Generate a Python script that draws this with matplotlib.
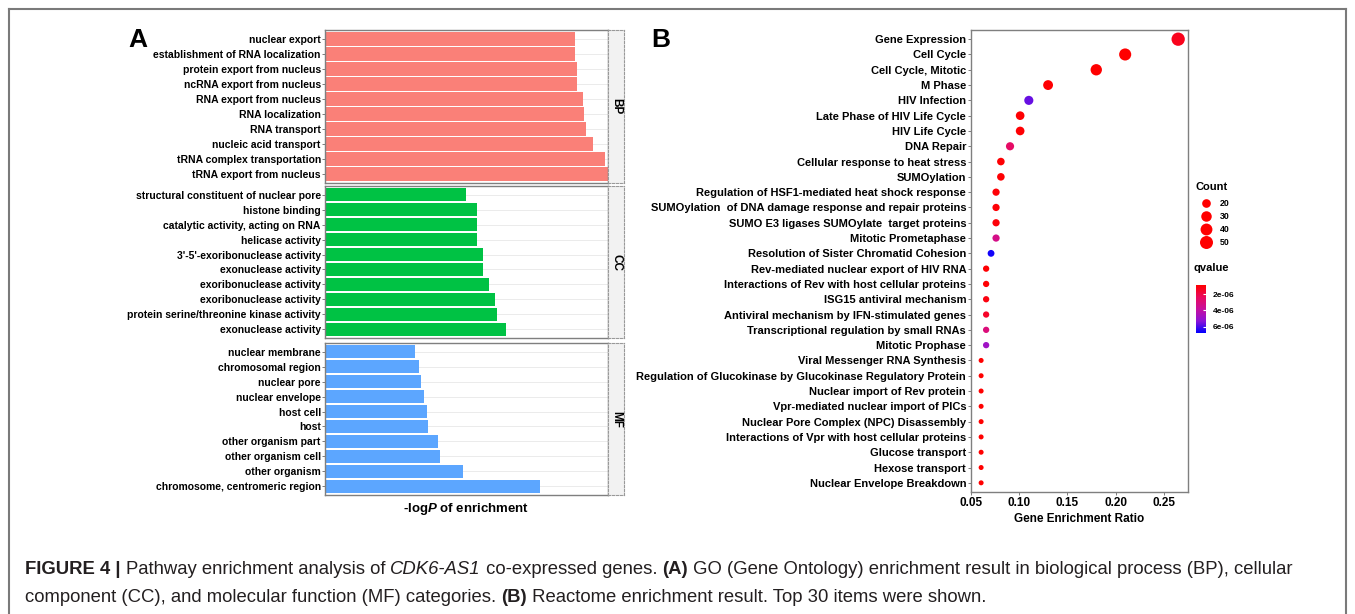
import numpy as np
import matplotlib
matplotlib.use("Agg")
import matplotlib.pyplot as plt
from matplotlib.colors import LinearSegmentedColormap, Normalize
from matplotlib.lines import Line2D

# fonts (bold italic "P" goes through the sf slot)
plt.rcParams['font.family'] = 'Liberation Sans'
plt.rcParams['mathtext.fontset'] = 'custom'
plt.rcParams['mathtext.rm'] = 'Liberation Sans'
plt.rcParams['mathtext.sf'] = 'Liberation Sans:italic:bold'

# ---- panel A data (-logP, relative units) ----
bp_terms = ["nuclear export", "establishment of RNA localization", "protein export from nucleus",
            "ncRNA export from nucleus", "RNA export from nucleus", "RNA localization",
            "RNA transport", "nucleic acid transport", "tRNA complex transportation",
            "tRNA export from nucleus"]
bp_vals = [8.83, 8.83, 8.89, 8.89, 9.11, 9.15, 9.21, 9.48, 9.89, 10.0]

cc_terms = ["structural constituent of nuclear pore", "histone binding",
            "catalytic activity, acting on RNA", "helicase activity",
            "3'-5'-exoribonuclease activity", "exonuclease activity",
            "exoribonuclease activity", "exoribonuclease activity",
            "protein serine/threonine kinase activity", "exonuclease activity"]
cc_vals = [4.97, 5.36, 5.36, 5.36, 5.57, 5.57, 5.79, 6.01, 6.08, 6.41]

mf_terms = ["nuclear membrane", "chromosomal region", "nuclear pore", "nuclear envelope",
            "host cell", "host", "other organism part", "other organism cell",
            "other organism", "chromosome, centromeric region"]
mf_vals = [3.17, 3.31, 3.38, 3.51, 3.60, 3.63, 4.00, 4.06, 4.86, 7.61]

# ---- panel B data (Reactome) ----
re_terms = ["Gene Expression", "Cell Cycle", "Cell Cycle, Mitotic", "M Phase", "HIV Infection",
            "Late Phase of HIV Life Cycle", "HIV Life Cycle", "DNA Repair",
            "Cellular response to heat stress", "SUMOylation",
            "Regulation of HSF1-mediated heat shock response",
            "SUMOylation  of DNA damage response and repair proteins",
            "SUMO E3 ligases SUMOylate  target proteins", "Mitotic Prometaphase",
            "Resolution of Sister Chromatid Cohesion", "Rev-mediated nuclear export of HIV RNA",
            "Interactions of Rev with host cellular proteins", "ISG15 antiviral mechanism",
            "Antiviral mechanism by IFN-stimulated genes", "Transcriptional regulation by small RNAs",
            "Mitotic Prophase", "Viral Messenger RNA Synthesis",
            "Regulation of Glucokinase by Glucokinase Regulatory Protein",
            "Nuclear import of Rev protein", "Vpr-mediated nuclear import of PICs",
            "Nuclear Pore Complex (NPC) Disassembly",
            "Interactions of Vpr with host cellular proteins", "Glucose transport",
            "Hexose transport", "Nuclear Envelope Breakdown"]
re_ratio = [0.265, 0.210, 0.180, 0.130, 0.110, 0.101, 0.101, 0.0905, 0.081, 0.081,
            0.076, 0.076, 0.076, 0.076, 0.0708, 0.0657, 0.0657, 0.0657, 0.0657, 0.0657,
            0.0657, 0.0605, 0.0605, 0.0605, 0.0605, 0.0605, 0.0605, 0.0605, 0.0605, 0.0605]
re_count = [53, 42, 36, 26, 22, 20, 20, 18, 16, 16, 15, 15, 15, 15, 14, 13, 13, 13, 13, 13,
            13, 12, 12, 12, 12, 12, 12, 12, 12, 12]
re_q = [1.3e-6, 8.5e-7, 8.5e-7, 9e-7, 5.7e-6, 9e-7, 9e-7, 2.5e-6, 9e-7, 9e-7,
        9.5e-7, 9.5e-7, 1.0e-6, 3.3e-6, 6.6e-6, 9e-7, 9e-7, 1.1e-6, 1.5e-6, 3.0e-6,
        4.8e-6, 8.5e-7, 8.5e-7, 8.5e-7, 8.5e-7, 8.5e-7, 8.5e-7, 8.5e-7, 8.5e-7, 8.5e-7]
count_legend = [20, 30, 40, 50]
q_ticks = [2e-6, 4e-6, 6e-6]
q_ticklabels = ["2e-06", "4e-06", "6e-06"]
ratio_ticks = [0.05, 0.10, 0.15, 0.20, 0.25]

# caption runs: (text, weight, style)
caption1 = [("FIGURE 4 | ", 'bold', 'normal'), ("Pathway enrichment analysis of ", 'normal', 'normal'),
            ("CDK6-AS1", 'normal', 'italic'), (" co-expressed genes. ", 'normal', 'normal'),
            ("(A)", 'bold', 'normal'),
            (" GO (Gene Ontology) enrichment result in biological process (BP), cellular", 'normal', 'normal')]
caption2 = [("component (CC), and molecular function (MF) categories. ", 'normal', 'normal'),
            ("(B)", 'bold', 'normal'),
            (" Reactome enrichment result. Top 30 items were shown.", 'normal', 'normal')]

W, H = 1355, 614
fig = plt.figure(figsize=(W / 100, H / 100), dpi=100)


def px_axes(x0, y0, x1, y1):
    # axes from pixel box (top-left origin)
    return fig.add_axes([x0 / W, 1 - y1 / H, (x1 - x0) / W, (y1 - y0) / H])


def dot_diam(c):
    # dot diameter in px, area-like scale like ggplot
    c = np.asarray(c, dtype=float)
    return 5 + 8.3 * np.sqrt(np.clip((c - 12) / 41, 0, 1))


def draw_runs(x, y, runs, size, color):
    # mixed bold / italic text, one piece after the other
    r = fig.canvas.get_renderer()
    xp = x
    for s, wt, st in runs:
        t = fig.text(xp / W, 1 - y / H, s, fontsize=size, fontweight=wt, fontstyle=st,
                     color=color, va='center')
        xp += t.get_window_extent(renderer=r).width


border = '#7f7f7f'

# ---------------- Panel A ----------------
facets = [(bp_terms, bp_vals, '#FA8078', 'BP', 30, 183),
          (cc_terms, cc_vals, '#00C244', 'CC', 186, 338),
          (mf_terms, mf_vals, '#5CA6FF', 'MF', 343, 495)]
for terms, vals, col, tag, top, bot in facets:
    ax = px_axes(325, top, 608, bot)
    y = np.arange(len(terms))
    ax.barh(y, vals, height=0.87, color=col, edgecolor='none', zorder=2)
    ax.set_xlim(0, 10.0)
    ax.set_ylim(len(terms) - 0.4, -0.6)
    ax.set_yticks(y)
    ax.set_yticklabels(terms, fontsize=7.5, fontweight='bold')
    ax.set_xticks([])
    ax.tick_params(axis='y', length=2, width=0.6, color='#666666', pad=1)
    ax.grid(axis='y', color='#EBEBEB', lw=0.7)
    ax.set_axisbelow(True)
    for s in ax.spines.values():
        s.set_color(border)
        s.set_linewidth(1.0)
    # facet strip on the right
    sax = px_axes(608, top, 624, bot)
    sax.set_facecolor('#F2F2F2')
    sax.set_xticks([])
    sax.set_yticks([])
    for s in sax.spines.values():
        s.set_color('#999999')
        s.set_linestyle((0, (2, 1.5)))
        s.set_linewidth(0.8)
    sax.text(0.5, 0.5, tag, rotation=-90, ha='center', va='center',
             fontsize=8.5, fontweight='bold', transform=sax.transAxes)

fig.text(466 / W, 1 - 509 / H, r"-log$\mathsf{P}$ of enrichment", ha='center', va='center',
         fontsize=9.5, fontweight='bold')

# ---------------- Panel B ----------------
cmap = LinearSegmentedColormap.from_list(
    'qv', [(0, '#FF0000'), (0.25, '#EA0A5E'), (0.5, '#C8109E'), (0.75, '#8C14D8'), (1, '#0000FF')])
norm = Normalize(vmin=8.4e-7, vmax=6.8e-6)

bx = px_axes(971, 30, 1188, 492)
yb = np.arange(len(re_terms))
bx.scatter(re_ratio, yb, s=(dot_diam(re_count) * 0.72) ** 2, c=re_q, cmap=cmap, norm=norm,
           edgecolors='none', zorder=3)
bx.set_xlim(0.0503, 0.2752)
bx.set_ylim(len(re_terms) - 0.4, -0.6)
bx.set_yticks(yb)
bx.set_yticklabels(re_terms, fontsize=8.0, fontweight='bold')
bx.set_xticks(ratio_ticks)
bx.set_xticklabels(["%.2f" % t for t in ratio_ticks], fontsize=8.5, fontweight='bold')
bx.tick_params(length=2, width=0.6, color='#666666', pad=1.5)
bx.set_xlabel("Gene Enrichment Ratio", fontsize=8.5, fontweight='bold', labelpad=3)
for s in bx.spines.values():
    s.set_color(border)
    s.set_linewidth(1.0)

# Count legend
handles = [Line2D([], [], marker='o', ls='', color='red', markeredgewidth=0,
                  markersize=d * 0.72) for d in dot_diam(count_legend)]
leg = fig.legend(handles, [str(c) for c in count_legend], title='Count', loc='upper left',
                 bbox_to_anchor=(1195 / W, 1 - 182 / H), frameon=False, fontsize=6.3,
                 title_fontproperties={'weight': 'bold', 'size': 8}, labelspacing=0.45,
                 handletextpad=0.4, handlelength=2.4, borderpad=0, borderaxespad=0)
leg._legend_box.align = 'left'
leg._legend_box.sep = 5
for t in leg.get_texts():
    t.set_fontweight('bold')

# qvalue colour bar (low value on top)
fig.text(1193 / W, 1 - 268 / H, 'qvalue', fontsize=8, fontweight='bold', va='center')
cax = px_axes(1196, 285, 1206, 333)
grad = np.linspace(norm.vmin, norm.vmax, 256).reshape(-1, 1)
cax.imshow(grad, aspect='auto', cmap=cmap, norm=norm, extent=[0, 1, norm.vmax, norm.vmin])
cax.set_xticks([])
cax.set_yticks(q_ticks)
cax.set_yticklabels(q_ticklabels, fontsize=6, fontweight='bold')
cax.yaxis.tick_right()
cax.tick_params(axis='y', length=2, direction='in', color='white', pad=5)
for s in cax.spines.values():
    s.set_visible(False)

# panel letters
fig.text(128 / W, 1 - 40 / H, 'A', fontsize=19, fontweight='bold', va='center')
fig.text(651 / W, 1 - 40 / H, 'B', fontsize=19, fontweight='bold', va='center')

# caption
cap_col = '#231F20'
draw_runs(25, 569, caption1, 13.3, cap_col)
draw_runs(25, 597, caption2, 13.3, cap_col)

# outer frame (top, left, right)
fc = '#7a7a7a'
fig.add_artist(Line2D([9 / W, 9 / W], [0, 1 - 9 / H], transform=fig.transFigure, color=fc, lw=1.5))
fig.add_artist(Line2D([1346 / W, 1346 / W], [0, 1 - 9 / H], transform=fig.transFigure, color=fc, lw=1.5))
fig.add_artist(Line2D([9 / W, 1346 / W], [1 - 9 / H, 1 - 9 / H], transform=fig.transFigure, color=fc, lw=1.5))

fig.savefig('out.png', dpi=100)
